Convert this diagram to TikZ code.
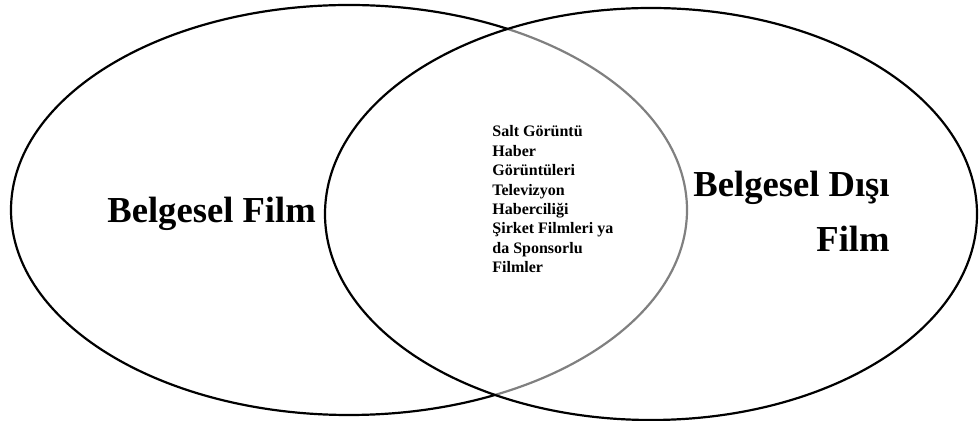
\documentclass[tikz,border=0pt]{standalone}
\usepackage{fontspec}
\setmainfont{Liberation Serif}
\begin{document}
\begin{tikzpicture}[x=0.5pt,y=-0.5pt,
  setline/.style={line width=1.1pt,draw=black},
  biglabel/.style={inner sep=0pt,font=\fontsize{18.3}{22}\selectfont\bfseries},
  smalllabel/.style={inner sep=0pt,font=\fontsize{8}{9.7}\selectfont\bfseries}]
\useasboundingbox (0,0) rectangle (979,421);
% left set, drawn black outside the right set
\begin{scope}[even odd rule]
  \clip (-10,-10) rectangle (990,430) (651,214) ellipse [x radius=163pt, y radius=103pt];
  \draw[setline] (349,210) ellipse [x radius=169pt, y radius=102.5pt];
\end{scope}
% left set, grey inside the right set
\begin{scope}
  \clip (651,214) ellipse [x radius=163pt, y radius=103pt];
  \draw[setline,draw=black!50] (349,210) ellipse [x radius=169pt, y radius=102.5pt];
\end{scope}
% right set
\draw[setline] (651,214) ellipse [x radius=163pt, y radius=103pt];
\node[biglabel,anchor=base west] (bf) at (107,223) {Belgesel Film};
\node[biglabel,anchor=base east] (bd1) at (890,197) {Belgesel Dışı};
\node[biglabel,anchor=base east] (bd2) at (890,252) {Film};
\node[smalllabel,anchor=base west] (mid) at (492,137) {\begin{tabular}[t]{@{}l@{}}Salt Görüntü\\ Haber\\ Görüntüleri\\ Televizyon\\ Haberciliği\\ Şirket Filmleri ya\\ da Sponsorlu\\ Filmler\end{tabular}};
\end{tikzpicture}
\end{document}
